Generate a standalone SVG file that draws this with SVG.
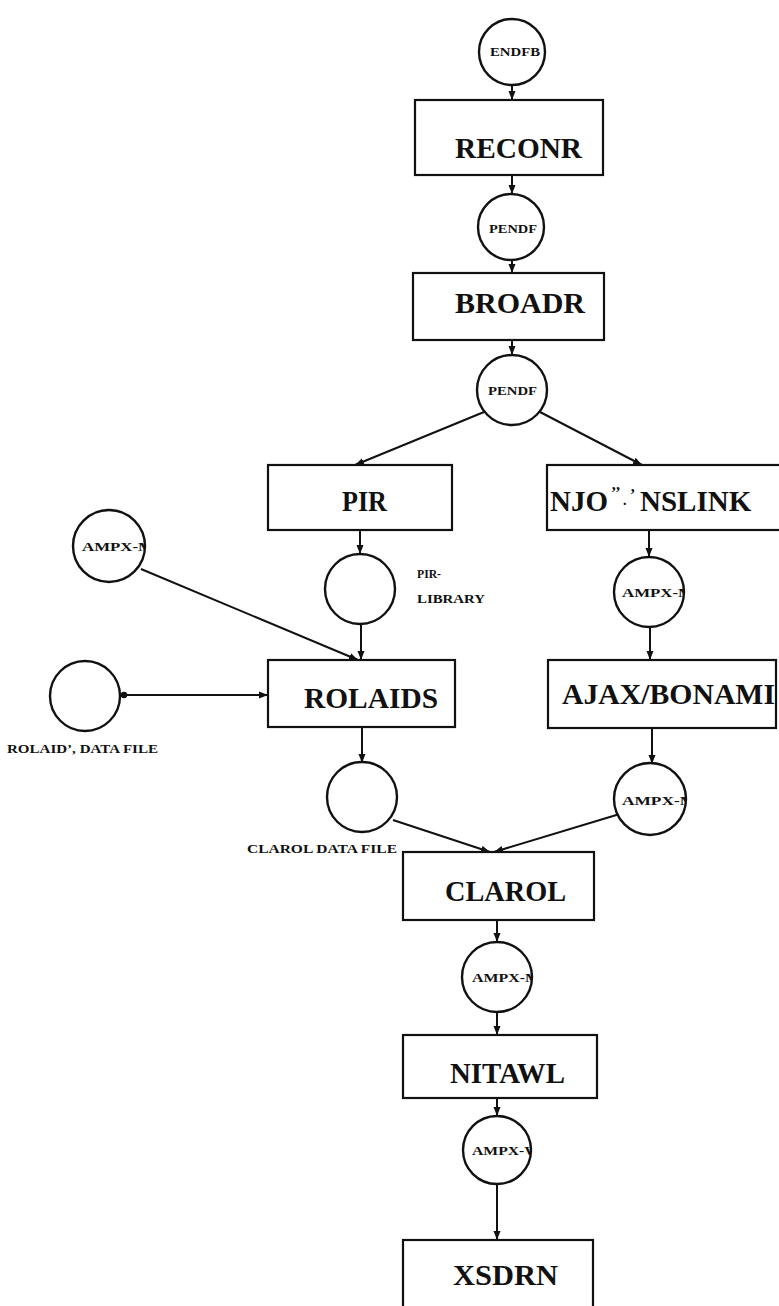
<svg xmlns="http://www.w3.org/2000/svg" width="779" height="1306" viewBox="0 0 779 1306">
<style>
.box{fill:#fff;stroke:#111;stroke-width:2.2}
.node{fill:#fff;stroke:#111;stroke-width:2.4}
.big{font-family:"Liberation Serif",serif;font-weight:bold;font-size:29px;fill:#111}
.sm{font-family:"Liberation Serif",serif;font-weight:bold;font-size:12px;fill:#111}
.edge{fill:none;stroke:#111;stroke-width:2}
</style>
<defs>
<marker id="ah" markerUnits="userSpaceOnUse" markerWidth="10" markerHeight="8" refX="9" refY="4" orient="auto">
<path d="M0,0.5 L9,4 L0,7.5 Z" fill="#111"/>
</marker>
<marker id="dot" markerUnits="userSpaceOnUse" markerWidth="8" markerHeight="8" refX="4" refY="4" orient="auto">
<circle cx="4" cy="4" r="3.2" fill="#111"/>
</marker>
<clipPath id="c1"><circle cx="109" cy="546" r="36"/></clipPath>
<clipPath id="c2"><circle cx="649" cy="592" r="35"/></clipPath>
<clipPath id="c3"><circle cx="650" cy="799" r="36"/></clipPath>
<clipPath id="c4"><circle cx="497" cy="977" r="35"/></clipPath>
<clipPath id="c5"><circle cx="497" cy="1150" r="34"/></clipPath>
</defs>

<g id="connectors">
<line class="edge" x1="512" y1="85" x2="512" y2="100" marker-end="url(#ah)"/>
<line class="edge" x1="512" y1="175" x2="512" y2="194" marker-end="url(#ah)"/>
<line class="edge" x1="512" y1="260" x2="512" y2="273" marker-end="url(#ah)"/>
<line class="edge" x1="512" y1="340" x2="512" y2="355" marker-end="url(#ah)"/>
<line class="edge" x1="484" y1="412" x2="355" y2="465" marker-end="url(#ah)"/>
<line class="edge" x1="540" y1="412" x2="642" y2="465" marker-end="url(#ah)"/>
<line class="edge" x1="360" y1="530" x2="360" y2="554" marker-end="url(#ah)"/>
<line class="edge" x1="649" y1="530" x2="649" y2="557" marker-end="url(#ah)"/>
<line class="edge" x1="141" y1="569" x2="358" y2="660" marker-end="url(#ah)"/>
<line class="edge" x1="361" y1="625" x2="361" y2="660" marker-end="url(#ah)"/>
<line class="edge" x1="124" y1="695" x2="268" y2="695" marker-start="url(#dot)" marker-end="url(#ah)"/>
<line class="edge" x1="650" y1="627" x2="650" y2="660" marker-end="url(#ah)"/>
<line class="edge" x1="362" y1="727" x2="362" y2="763" marker-end="url(#ah)"/>
<line class="edge" x1="652" y1="728" x2="652" y2="764" marker-end="url(#ah)"/>
<line class="edge" x1="393" y1="820" x2="490" y2="852" marker-end="url(#ah)"/>
<line class="edge" x1="623" y1="813" x2="494" y2="852" marker-end="url(#ah)"/>
<line class="edge" x1="497" y1="920" x2="497" y2="942" marker-end="url(#ah)"/>
<line class="edge" x1="497" y1="1012" x2="497" y2="1035" marker-end="url(#ah)"/>
<line class="edge" x1="497" y1="1098" x2="497" y2="1116" marker-end="url(#ah)"/>
<line class="edge" x1="497" y1="1184" x2="497" y2="1240" marker-end="url(#ah)"/>
</g>

<g id="endfb">
<circle class="node" cx="512" cy="52" r="33"/>
<text class="sm" x="490" y="56" textLength="50" lengthAdjust="spacingAndGlyphs">ENDFB</text>
</g>
<g id="reconr">
<rect class="box" x="415" y="100" width="188" height="75"/>
<text class="big" x="455" y="158" textLength="127" lengthAdjust="spacingAndGlyphs">RECONR</text>
</g>
<g id="pendf1">
<circle class="node" cx="511" cy="227" r="33"/>
<text class="sm" x="489" y="233" textLength="48" lengthAdjust="spacingAndGlyphs">PENDF</text>
</g>
<g id="broadr">
<rect class="box" x="413" y="273" width="191" height="67"/>
<text class="big" x="455" y="313" textLength="130" lengthAdjust="spacingAndGlyphs">BROADR</text>
</g>
<g id="pendf2">
<circle class="node" cx="512" cy="390" r="35"/>
<text class="sm" x="488" y="395" textLength="49" lengthAdjust="spacingAndGlyphs">PENDF</text>
</g>
<g id="pir">
<rect class="box" x="268" y="465" width="184" height="65"/>
<text class="big" x="342" y="511" textLength="45" lengthAdjust="spacingAndGlyphs">PIR</text>
</g>
<g id="njoy">
<rect class="box" x="547" y="465" width="236" height="65"/>
<text class="big" y="511"><tspan x="550">NJO</tspan><tspan x="611" y="498" font-size="16">’’</tspan><tspan x="623" y="505" font-size="14">.</tspan><tspan x="630" y="500" font-size="16">’</tspan><tspan x="640" y="511">NSLINK</tspan></text>
</g>
<g id="ampx1">
<circle class="node" cx="109" cy="546" r="36"/>
<text class="sm" x="82" y="551" font-size="13" textLength="72" lengthAdjust="spacingAndGlyphs" clip-path="url(#c1)">AMPX-M</text>
</g>
<g id="pirlib">
<circle class="node" cx="360" cy="589" r="35"/>
<text class="sm" x="417" y="578" font-size="10" textLength="24" lengthAdjust="spacingAndGlyphs">PIR-</text>
<text class="sm" x="417" y="603" font-size="10" textLength="68" lengthAdjust="spacingAndGlyphs">LIBRARY</text>
</g>
<g id="ampx2">
<circle class="node" cx="649" cy="592" r="35"/>
<text class="sm" x="622" y="597" textLength="72" lengthAdjust="spacingAndGlyphs" clip-path="url(#c2)">AMPX-M</text>
</g>
<g id="rolaidfile">
<circle class="node" cx="85" cy="696" r="35"/>
<text class="sm" x="7" y="753" font-size="11" textLength="151" lengthAdjust="spacingAndGlyphs">ROLAID’, DATA FILE</text>
</g>
<g id="rolaids">
<rect class="box" x="268" y="660" width="187" height="67"/>
<text class="big" x="304" y="708" textLength="134" lengthAdjust="spacingAndGlyphs">ROLAIDS</text>
</g>
<g id="ajax">
<rect class="box" x="548" y="660" width="228" height="68"/>
<text class="big" x="562" y="704" textLength="213" lengthAdjust="spacingAndGlyphs">AJAX/BONAMI</text>
</g>
<g id="clarolfile">
<circle class="node" cx="362" cy="797" r="35"/>
<text class="sm" x="247" y="853" font-size="11" textLength="150" lengthAdjust="spacingAndGlyphs">CLAROL DATA FILE</text>
</g>
<g id="ampx3">
<circle class="node" cx="650" cy="799" r="36"/>
<text class="sm" x="622" y="805" textLength="74" lengthAdjust="spacingAndGlyphs" clip-path="url(#c3)">AMPX-M</text>
</g>
<g id="clarol">
<rect class="box" x="403" y="852" width="191" height="68"/>
<text class="big" x="445" y="901" textLength="121" lengthAdjust="spacingAndGlyphs">CLAROL</text>
</g>
<g id="ampx4">
<circle class="node" cx="497" cy="977" r="35"/>
<text class="sm" x="472" y="982" textLength="68" lengthAdjust="spacingAndGlyphs" clip-path="url(#c4)">AMPX-M</text>
</g>
<g id="nitawl">
<rect class="box" x="403" y="1035" width="194" height="63"/>
<text class="big" x="450" y="1083" textLength="115" lengthAdjust="spacingAndGlyphs">NITAWL</text>
</g>
<g id="ampxw">
<circle class="node" cx="497" cy="1150" r="34"/>
<text class="sm" x="472" y="1155" textLength="68" lengthAdjust="spacingAndGlyphs" clip-path="url(#c5)">AMPX-W</text>
</g>
<g id="xsdrn">
<rect class="box" x="403" y="1240" width="190" height="70"/>
<text class="big" x="453" y="1285" textLength="105" lengthAdjust="spacingAndGlyphs">XSDRN</text>
</g>
</svg>
